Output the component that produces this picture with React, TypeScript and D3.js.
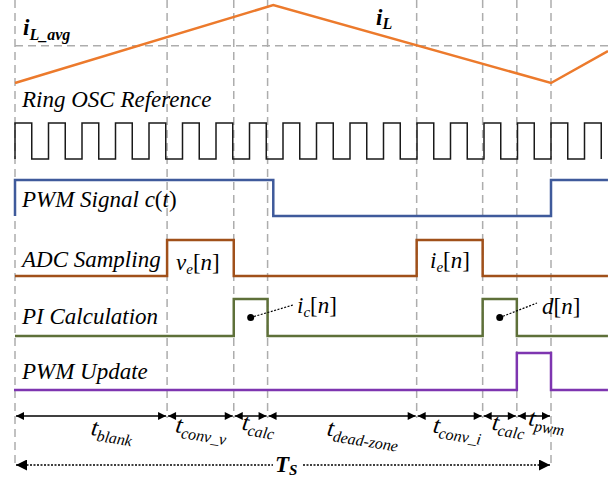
import React from "react";
import * as d3 from "d3";

// time is in ring-oscillator cycles, Ts = 16 cycles
const boundaryTimes = [0, 4.54, 6.53, 7.54, 11.99, 13.96, 14.98, 16];
const segmentNames = ["blank", "conv_v", "calc", "dead-zone", "conv_i", "calc", "pwm"];

const oscRisingEdges = [0, 1, 2, 3, 4, 5, 6, 7, 8, 9, 10, 11, 12, 13, 14, 15, 16, 17];
const oscHighTime = 0.5;

// inductor current (normalized): start, peak, valley, end
const iLTimes = [0, 7.71, 16, 17.7];
const iLValues = [0, 1, 0, 0.41];
const iLAvg = 0.478;

// digital signals as [time, level]
const pwmSignal: [number, number][] = [[0, 0], [0, 1], [7.71, 0], [16, 1], [17.7, 1]];
const adcSampling: [number, number][] = [[0, 0], [4.54, 1], [6.53, 0], [11.99, 1], [13.96, 0], [17.7, 0]];
const piCalc: [number, number][] = [[0, 0], [6.53, 1], [7.54, 0], [13.96, 1], [14.98, 0], [17.7, 0]];
const pwmUpdate: [number, number][] = [[-0.03, 0], [14.98, 1], [16, 0], [17.7, 0]];

const W = 608, H = 480;
const serif = "'Liberation Serif', 'Times New Roman', serif";

const x = d3.scaleLinear().domain([0, 16]).range([15, 551]);
const yIL = d3.scaleLinear().domain([0, 1]).range([83, 5]);

// row layout: low level y, amplitude
const rows = {
  osc: { low: 159, amp: 36 },
  pwm: { low: 216, amp: 36 },
  adc: { low: 276, amp: 36 },
  pi: { low: 336, amp: 37 },
  upd: { low: 390, amp: 37 },
};

const stepLine = (row: { low: number; amp: number }) =>
  d3.line<[number, number]>()
    .x(d => x(d[0]))
    .y(d => row.low - d[1] * row.amp)
    .curve(d3.curveStepAfter);

const oscPoints: [number, number][] = [[0, 0]];
oscRisingEdges.forEach(t => {
  oscPoints.push([t, 1]);
  oscPoints.push([t + oscHighTime, 0]);
});

const iLLine = d3.line<number>()
  .x((_, i) => x(iLTimes[i]))
  .y(d => yIL(d));

// label offsets along the dimension row (layout only)
const segLabelDx = [20, 0, 7, 20, 7, 8, 12];
const segLabelY = [438, 436, 432, 441, 436, 432, 428];

const arrowY = 416;
const tsY = 465;

export default function App() {
  const lastIdx = boundaryTimes.length - 1;
  return (
    <svg width={W} height={H} style={{ position: "absolute", left: 0, top: 0, background: "#fff" }}
      fontFamily={serif}>
      <defs>
        <marker id="arr" viewBox="0 0 10 10" refX="10" refY="5" markerWidth="10" markerHeight="8"
          markerUnits="userSpaceOnUse" orient="auto-start-reverse">
          <path d="M0,0 L10,5 L0,10 z" fill="#000" />
        </marker>
        <marker id="arrBig" viewBox="0 0 10 10" refX="10" refY="5" markerWidth="15" markerHeight="11"
          markerUnits="userSpaceOnUse" orient="auto-start-reverse">
          <path d="M0,0 L10,5 L0,10 z" fill="#000" />
        </marker>
      </defs>

      {/* vertical dashed boundaries */}
      {boundaryTimes.map((t, i) => (
        <line key={"v" + i} x1={x(t)} x2={x(t)} y1={0}
          y2={i === 0 || i === lastIdx ? tsY + 3 : arrowY + 2}
          stroke="#ADADAD" strokeWidth={1.5} strokeDasharray="8,5" />
      ))}

      {/* average current */}
      <line x1={x(0)} x2={W} y1={yIL(iLAvg)} y2={yIL(iLAvg)} stroke="#ADADAD"
        strokeWidth={1.5} strokeDasharray="8,5" />

      <path d={iLLine(iLValues) || ""} fill="none" stroke="#EC7A2C" strokeWidth={2.5} />
      <text x={23} y={35} fontSize={23} fontStyle="italic" fontWeight="bold">i
        <tspan fontSize={16} dy={5}>L_avg</tspan>
      </text>
      <text x={376} y={25} fontSize={23} fontStyle="italic" fontWeight="bold">i
        <tspan fontSize={16} dy={4}>L</tspan>
      </text>

      {/* ring oscillator */}
      <text x={22} y={107} fontSize={23} fontStyle="italic">Ring OSC Reference</text>
      <path d={stepLine(rows.osc)(oscPoints) || ""} fill="none" stroke="#1a1a1a" strokeWidth={1.5} />

      {/* PWM signal */}
      <path d={stepLine(rows.pwm)(pwmSignal) || ""} fill="none" stroke="#3F5A9B" strokeWidth={2.5} />
      <text x={22} y={207} fontSize={23} fontStyle="italic">PWM Signal c<tspan fontStyle="normal">(</tspan>t<tspan fontStyle="normal">)</tspan></text>

      {/* ADC sampling */}
      <path d={stepLine(rows.adc)(adcSampling) || ""} fill="none" stroke="#A0501A" strokeWidth={2.5} />
      <text x={22} y={267} fontSize={23} fontStyle="italic">ADC Sampling</text>
      <text x={176} y={270} fontSize={23}>
        <tspan fontStyle="italic">v</tspan><tspan fontStyle="italic" fontSize={15} dy={4}>e</tspan>
        <tspan dy={-4}>[</tspan><tspan fontStyle="italic">n</tspan><tspan>]</tspan>
      </text>
      <text x={430} y={268} fontSize={23}>
        <tspan fontStyle="italic">i</tspan><tspan fontStyle="italic" fontSize={15} dy={4}>e</tspan>
        <tspan dy={-4}>[</tspan><tspan fontStyle="italic">n</tspan><tspan>]</tspan>
      </text>

      {/* PI calculation */}
      <path d={stepLine(rows.pi)(piCalc) || ""} fill="none" stroke="#5E7039" strokeWidth={2.5} />
      <text x={22} y={324} fontSize={23} fontStyle="italic">PI Calculation</text>
      {[
        { t0: 6.53, t1: 7.54, tx: 293, ty: 305 },
        { t0: 13.96, t1: 14.98, tx: 537, ty: 303 },
      ].map((c, i) => {
        const cx = x((c.t0 + c.t1) / 2);
        const cy = rows.pi.low - rows.pi.amp / 2;
        return (
          <g key={"c" + i}>
            <circle cx={cx} cy={cy} r={3.5} fill="#000" />
            <line x1={cx} y1={cy} x2={c.tx} y2={c.ty} stroke="#000" strokeWidth={1.2} strokeDasharray="2,1.5" />
          </g>
        );
      })}
      <text x={297} y={313} fontSize={23}>
        <tspan fontStyle="italic">i</tspan><tspan fontStyle="italic" fontSize={15} dy={4}>c</tspan>
        <tspan dy={-4}>[</tspan><tspan fontStyle="italic">n</tspan><tspan>]</tspan>
      </text>
      <text x={542} y={314} fontSize={23}>
        <tspan fontStyle="italic">d</tspan><tspan>[</tspan><tspan fontStyle="italic">n</tspan><tspan>]</tspan>
      </text>

      {/* PWM update */}
      <path d={stepLine(rows.upd)(pwmUpdate) || ""} fill="none" stroke="#7E35B0" strokeWidth={2.5} />
      <text x={22} y={379} fontSize={23} fontStyle="italic">PWM Update</text>

      {/* time segment dimensions */}
      {segmentNames.map((name, i) => {
        const a = x(boundaryTimes[i]), b = x(boundaryTimes[i + 1]);
        const cx = (a + b) / 2 + segLabelDx[i];
        const cy = segLabelY[i];
        return (
          <g key={"s" + i}>
            <line x1={a + 1} x2={b - 1} y1={arrowY} y2={arrowY} stroke="#000" strokeWidth={1.5}
              markerStart="url(#arr)" markerEnd="url(#arr)" />
            <text x={cx} y={cy} fontSize={24} fontStyle="italic" textAnchor="middle"
              transform={`rotate(9 ${cx} ${cy})`}>t
              <tspan fontSize={16} dy={5}>{name}</tspan>
            </text>
          </g>
        );
      })}

      {/* switching period */}
      <line x1={x(0) + 1} x2={x(16) - 1} y1={tsY} y2={tsY} stroke="#000" strokeWidth={1.3}
        strokeDasharray="2,1.5" markerStart="url(#arrBig)" markerEnd="url(#arrBig)" />
      <rect x={273} y={452} width={30} height={26} fill="#fff" />
      <text x={275} y={472} fontSize={23} fontStyle="italic" fontWeight="bold">T
        <tspan fontSize={15} dy={3}>S</tspan>
      </text>
    </svg>
  );
}
